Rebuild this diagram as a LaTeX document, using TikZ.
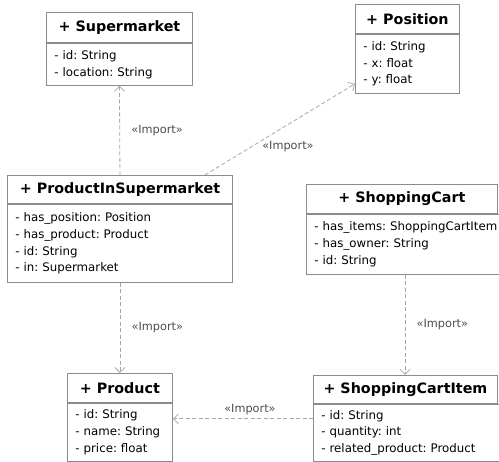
\documentclass[tikz,border=0pt]{standalone}
\usepackage{fontspec}
\setmainfont{DejaVu Sans}
\usetikzlibrary{arrows.meta}
\frenchspacing
\begin{document}
\begin{tikzpicture}[x=1pt,y=-1pt,
  classname/.style={draw=gray!90, line width=0.9pt, anchor=north west, inner sep=0pt,
    font=\fontsize{14.3}{16}\selectfont\bfseries},
  classbody/.style={draw=gray!90, line width=0.9pt, anchor=north west, align=left,
    inner xsep=8pt, inner ysep=0pt, font=\fontsize{11.8}{16.8}\selectfont},
  import/.style={draw=gray!70, line width=0.8pt, dash pattern=on 4pt off 2.5pt,
    -{Straight Barb[length=5pt,width=10pt]}},
  importlabel/.style={font=\fontsize{11.3}{13}\selectfont, text=black!70}]
\clip (0,0) rectangle (499,462);
% classes
\node[classname, minimum width=146pt, minimum height=30pt] (smT) at (46,12) {+ Supermarket};
\node[classbody, text width=130pt, minimum height=42pt] (smB) at (smT.south west)
  {- id: String\\- location: String};
\node[classname, minimum width=104pt, minimum height=29pt] (posT) at (355,4) {+ Position};
\node[classbody, text width=88pt, minimum height=59pt] (posB) at (posT.south west)
  {- id: String\\- x: float\\- y: float};
\node[classname, minimum width=225pt, minimum height=28pt] (pisT) at (7,175) {+ ProductInSupermarket};
\node[classbody, text width=209pt, minimum height=78pt] (pisB) at (pisT.south west)
  {- has\_position: Position\\- has\_product: Product\\- id: String\\- in: Supermarket};
\node[classname, minimum width=191pt, minimum height=29pt] (scT) at (306,184) {+ ShoppingCart};
\node[classbody, text width=200pt, minimum height=60pt] (scB) at (scT.south west)
  {- has\_items: ShoppingCartItem\\- has\_owner: String\\- id: String};
\node[classname, minimum width=105pt, minimum height=29pt] (prT) at (67,373) {+ Product};
\node[classbody, text width=89pt, minimum height=58pt] (prB) at (prT.south west)
  {- id: String\\- name: String\\- price: float};
\node[classname, minimum width=184pt, minimum height=28pt] (sciT) at (313,375) {+ ShoppingCartItem};
\node[classbody, text width=200pt, minimum height=57pt] (sciB) at (sciT.south west)
  {- id: String\\- quantity: int\\- related\_product: Product};
% imports
\coordinate (sciIn) at ([xshift=92pt]sciT.north west);
\coordinate (sciOut) at ([yshift=-15pt]sciB.north west);
\draw[import] (pisT.north) -- (smB.south)
  node[importlabel, midway, right=8pt] {«Import»};
\draw[import] ([xshift=-28pt]pisT.north east) -- ([yshift=10pt]posB.south west)
  node[importlabel, midway, xshift=8pt, yshift=-17pt] {«Import»};
\draw[import] (pisB.south) -- (prT.north)
  node[importlabel, midway, right=8pt] {«Import»};
\draw[import] (scB.south -| sciIn) -- (sciIn)
  node[importlabel, midway, right=8pt] {«Import»};
\draw[import] (sciOut) -- (sciOut -| prB.east)
  node[importlabel, midway, above, xshift=7pt] {«Import»};
\end{tikzpicture}
\end{document}
